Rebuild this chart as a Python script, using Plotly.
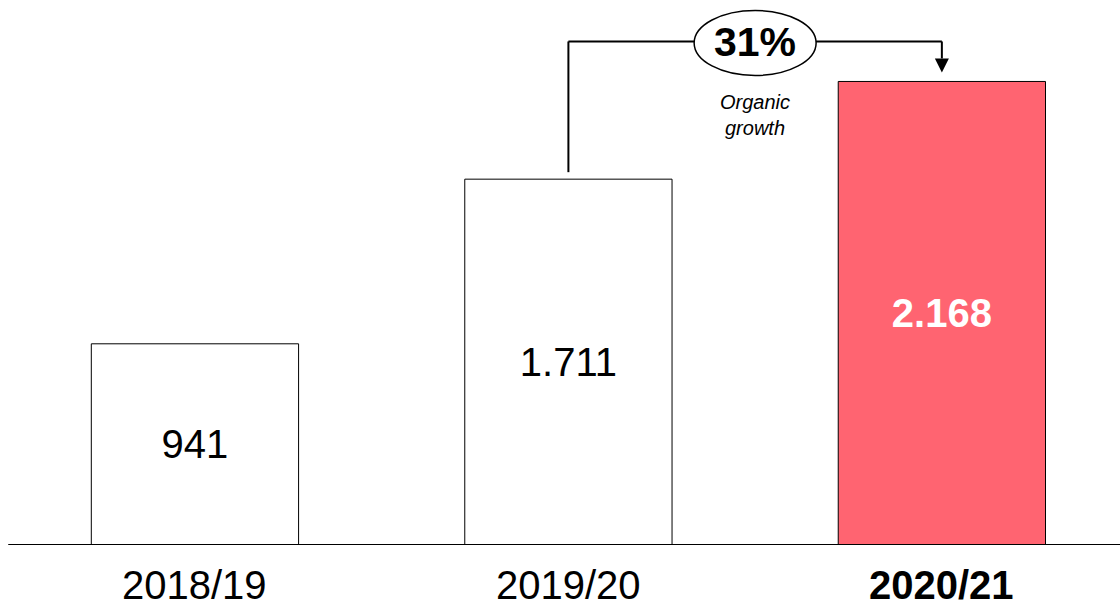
import plotly.graph_objects as go

categories = ["2018/19", "2019/20", "2020/21"]
values = [941, 1711, 2168]
value_labels = ["941", "1.711", "2.168"]
growth_label = "31%"
growth_note = "Organic<br>growth"

FONT = "Liberation Sans, Arial, sans-serif"
RED = "#FF6471"

bar_colors = ["white", "white", RED]
text_colors = ["black", "black", "white"]
bar_texts = [value_labels[0], value_labels[1], "<b>" + value_labels[2] + "</b>"]

x_idx = list(range(len(categories)))

fig = go.Figure()
fig.add_trace(go.Bar(
    x=x_idx, y=values, width=0.555,
    marker=dict(color=bar_colors, line=dict(color="black", width=1)),
    text=bar_texts, textposition="inside", insidetextanchor="middle",
    textangle=0,
    textfont=dict(family=FONT, size=40, color=text_colors),
    hoverinfo="skip",
))

ymax = 2549
px = ymax / 545.0  # data units per pixel

# baseline
fig.add_shape(type="line", xref="x", yref="y", x0=-0.5, x1=2.6, y0=0, y1=0,
              line=dict(color="black", width=2))

# growth bracket
y_start = values[1] + 7 * px
y_top = values[2] + 40 * px
y_tip = values[2] + 9 * px
y_head = y_tip + 14 * px
hw = 7 / 373.5
fig.add_shape(type="line", xref="x", yref="y", x0=1, x1=1, y0=y_start, y1=y_top,
              line=dict(color="black", width=2))
fig.add_shape(type="line", xref="x", yref="y", x0=1, x1=2, y0=y_top, y1=y_top,
              line=dict(color="black", width=2))
fig.add_shape(type="line", xref="x", yref="y", x0=2, x1=2, y0=y_top, y1=y_head,
              line=dict(color="black", width=2))
fig.add_shape(type="path", xref="x", yref="y",
              path=f"M {2-hw},{y_head} L {2+hw},{y_head} L 2,{y_tip} Z",
              fillcolor="black", line=dict(color="black", width=0))
# ellipse
ew = 61 / 373.5
fig.add_shape(type="circle", xref="x", yref="y",
              x0=1.5 - ew, x1=1.5 + ew, y0=y_top - 34 * px, y1=y_top + 31 * px,
              fillcolor="white", line=dict(color="black", width=1.5))
fig.add_annotation(x=1.5, y=y_top - 1 * px, xref="x", yref="y", text="<b>" + growth_label + "</b>",
                   showarrow=False, font=dict(family=FONT, size=41, color="black"),
                   yanchor="middle")
fig.add_annotation(x=1.5, y=y_top - 74 * px, xref="x", yref="y", text="<i>" + growth_note + "</i>",
                   showarrow=False, font=dict(family=FONT, size=20, color="black"),
                   yanchor="middle")

# category labels
for i, c in enumerate(categories):
    t = "<b>" + c + "</b>" if i == len(categories) - 1 else c
    fig.add_annotation(x=i, y=-40 / 545.0, xref="x", yref="paper", text=t,
                       showarrow=False, yanchor="middle", borderpad=0,
                       font=dict(family=FONT, size=40, color="black"))

fig.update_layout(
    width=1120, height=609,
    margin=dict(l=0, r=0, t=0, b=64),
    paper_bgcolor="white", plot_bgcolor="white",
    showlegend=False,
    xaxis=dict(range=[-0.522, 2.477], visible=False, fixedrange=True),
    yaxis=dict(range=[0, ymax], visible=False, fixedrange=True),
)

fig.write_html("out.html")
